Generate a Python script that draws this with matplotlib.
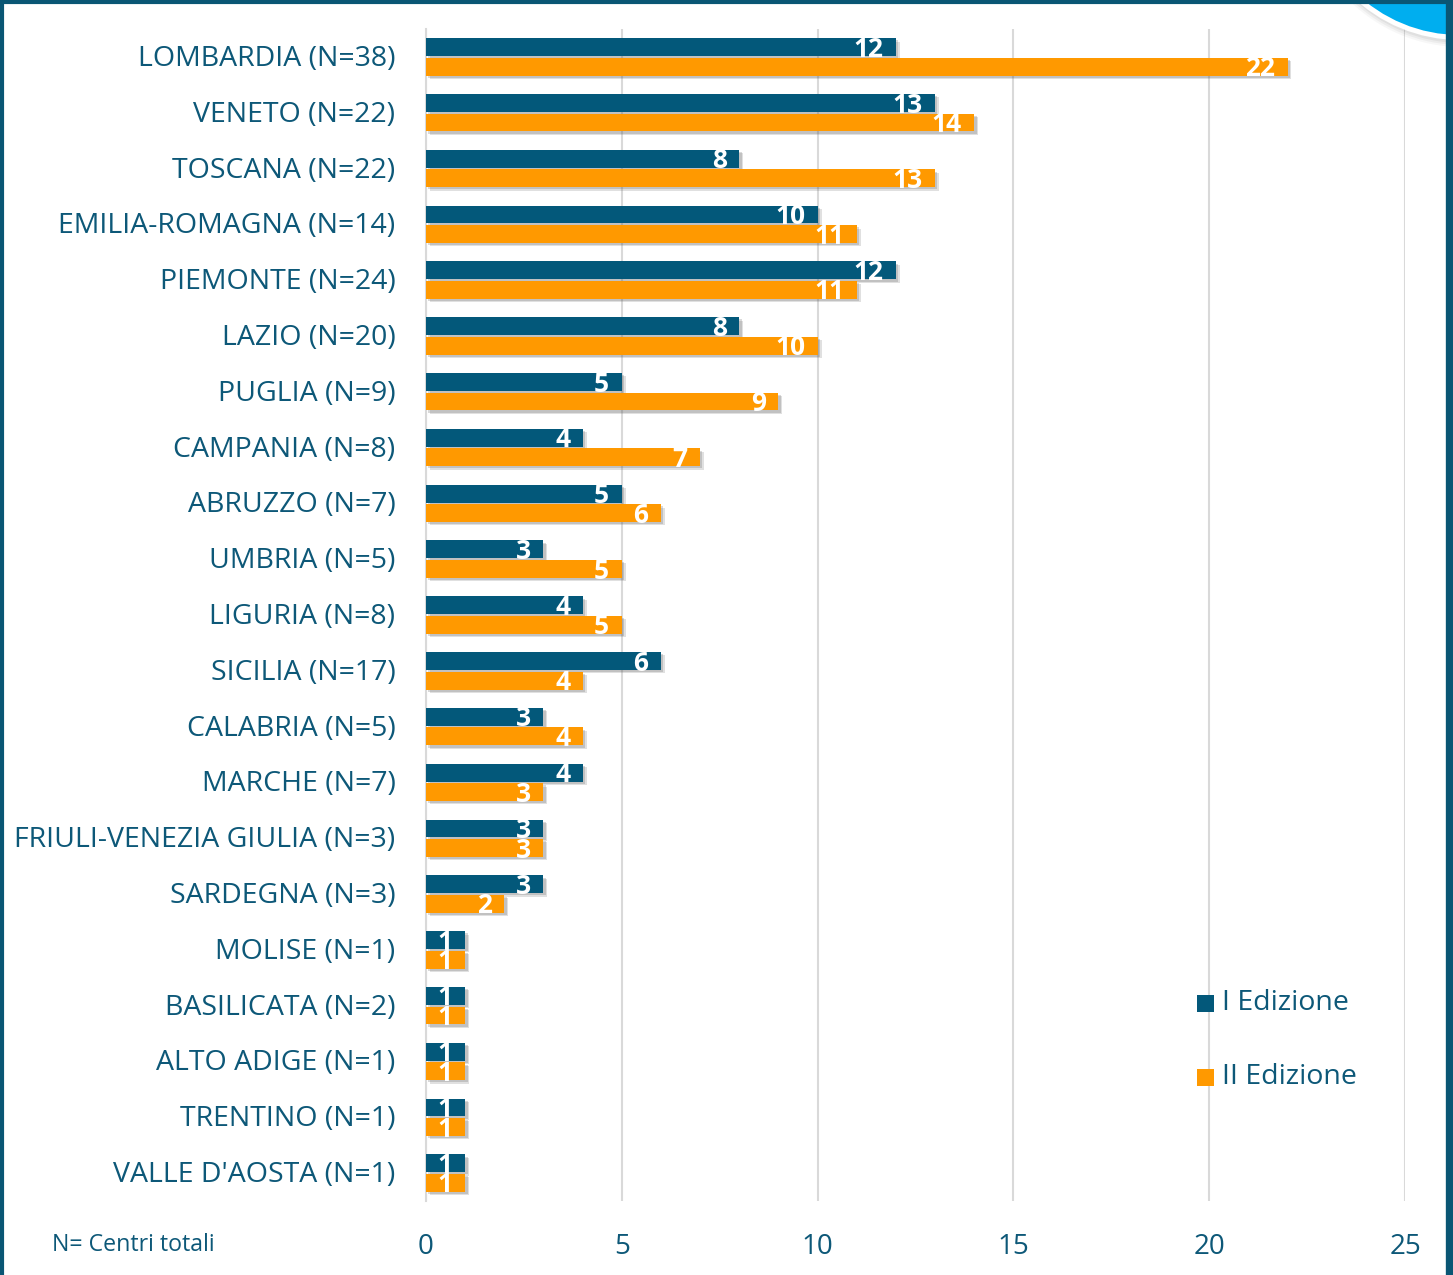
import matplotlib
matplotlib.use("Agg")
import matplotlib.pyplot as plt
import matplotlib.transforms as mtransforms
from matplotlib.patches import Circle, Rectangle
import numpy as np

categories = ["LOMBARDIA (N=38)", "VENETO (N=22)", "TOSCANA (N=22)", "EMILIA-ROMAGNA (N=14)",
              "PIEMONTE (N=24)", "LAZIO (N=20)", "PUGLIA (N=9)", "CAMPANIA (N=8)",
              "ABRUZZO (N=7)", "UMBRIA (N=5)", "LIGURIA (N=8)", "SICILIA (N=17)",
              "CALABRIA (N=5)", "MARCHE (N=7)", "FRIULI-VENEZIA GIULIA (N=3)", "SARDEGNA (N=3)",
              "MOLISE (N=1)", "BASILICATA (N=2)", "ALTO ADIGE (N=1)", "TRENTINO (N=1)",
              "VALLE D'AOSTA (N=1)"]
edizione_1 = [12, 13, 8, 10, 12, 8, 5, 4, 5, 3, 4, 6, 3, 4, 3, 3, 1, 1, 1, 1, 1]
edizione_2 = [22, 14, 13, 11, 11, 10, 9, 7, 6, 5, 5, 4, 4, 3, 3, 2, 1, 1, 1, 1, 1]
series_names = ["I Edizione", "II Edizione"]
x_ticks = [0, 5, 10, 15, 20, 25]

BLUE = "#03587A"
ORANGE = "#FF9900"
TEXT = "#0D5878"
FRAME = "#0A5674"

plt.rcParams['font.family'] = ['Open Sans', 'DejaVu Sans']

W, H = 1453, 1275
fig = plt.figure(figsize=(W / 100, H / 100), dpi=100)
fig.patch.set_facecolor("white")

ax_l, ax_r, ax_t, ax_b = 426, 1405, 29, 1201
ax = fig.add_axes([ax_l / W, (H - ax_b) / H, (ax_r - ax_l) / W, (ax_b - ax_t) / H])

y = np.arange(len(categories))
bh = 0.32
off = 0.175

# shadows
for dx, dy, a in [(0.10, 0.06, 0.18), (0.06, 0.04, 0.22)]:
    ax.barh(y - off + dy, edizione_1, height=bh, left=dx, color="#555555", alpha=a, zorder=2, linewidth=0)
    ax.barh(y + off + dy, edizione_2, height=bh, left=dx, color="#555555", alpha=a, zorder=2, linewidth=0)

b1 = ax.barh(y - off, edizione_1, height=bh, color=BLUE, zorder=3, linewidth=0)
b2 = ax.barh(y + off, edizione_2, height=bh, color=ORANGE, zorder=3, linewidth=0)

for bars, vals in [(b1, edizione_1), (b2, edizione_2)]:
    for rect, v in zip(bars, vals):
        ax.annotate(str(v), xy=(v, rect.get_y() + rect.get_height() / 2),
                    xytext=(-9, -1.5), textcoords="offset points",
                    ha="right", va="center", color="white", fontsize=19,
                    fontweight="bold", zorder=5)

ax.set_xlim(0, 25)
ax.set_ylim(len(categories) - 0.5, -0.5)
ax.set_xticks(x_ticks)
ax.set_xticklabels([str(t) for t in x_ticks])
ax.set_yticks(y)
ax.set_yticklabels(categories)
ax.tick_params(axis="y", length=0, pad=22, labelsize=20.5, labelcolor=TEXT)
ax.tick_params(axis="x", length=0, pad=23, labelsize=20, labelcolor=TEXT)
shift = mtransforms.ScaledTranslation(0, -2 / 100, fig.dpi_scale_trans)
for lbl in ax.get_yticklabels():
    lbl.set_va("center")
    lbl.set_transform(lbl.get_transform() + shift)
ax.grid(axis="x", color="#D9D9D9", linewidth=1.5, zorder=0)
ax.set_axisbelow(True)
for s in ["top", "right", "bottom"]:
    ax.spines[s].set_visible(False)
ax.spines["left"].set_color("#D9D9D9")
ax.spines["left"].set_linewidth(1.5)

# footnote
fig.text(52 / W, 1 - 1245 / H, "N= Centri totali", ha="left", va="center",
         fontsize=16.7, color=TEXT)

# legend
for name, col, yy in [(series_names[0], BLUE, 1003), (series_names[1], ORANGE, 1077)]:
    fig.patches.append(Rectangle(((1197) / W, 1 - (yy + 9) / H), 17 / W, 17 / H,
                                 transform=fig.transFigure, facecolor=col, edgecolor="none"))
    fig.text(1222 / W, 1 - yy / H, name, ha="left", va="center", fontsize=20.5, color=TEXT)

# frame and decorative circle
ov = fig.add_axes([0, 0, 1, 1], zorder=10)
ov.set_xlim(0, W)
ov.set_ylim(H, 0)
ov.axis("off")
ov.patch.set_visible(False)
ov.plot([1.5, 1.5], [0, H], color=FRAME, linewidth=3, solid_capstyle="butt")
ov.plot([0, W], [1.5, 1.5], color=FRAME, linewidth=3, solid_capstyle="butt")
ov.plot([W - 3, W - 3], [0, H], color=FRAME, linewidth=6, solid_capstyle="butt")
for r, a in [(160, 0.06), (158, 0.08), (156, 0.1)]:
    ov.add_patch(Circle((1462, -113), r, facecolor="#777777", alpha=a, edgecolor="none"))
ov.add_patch(Circle((1460, -115), 155, facecolor="white", edgecolor="none"))
ov.add_patch(Circle((1460, -115), 150, facecolor="#00AEEF", edgecolor="none"))

fig.savefig("out.png", dpi=100, facecolor="white")
